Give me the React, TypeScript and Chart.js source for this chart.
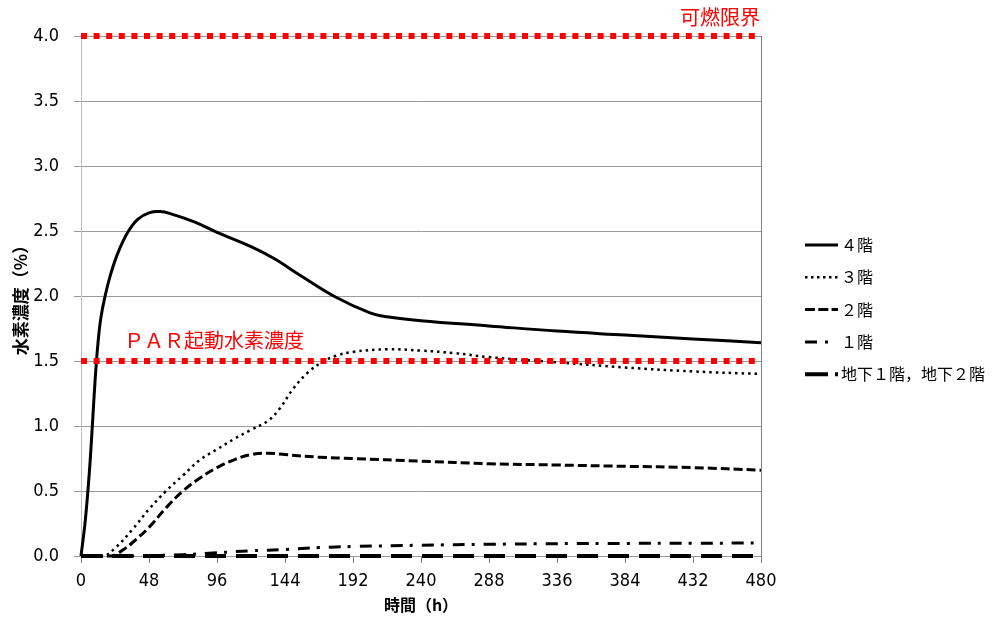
import React, { useEffect, useRef } from 'react';
import { Chart, registerables } from 'chart.js';

Chart.register(...registerables);

// ---- data ----
const hours4F = [0, 3, 6, 8, 10, 12, 14, 17, 21, 26, 33, 40, 48, 56, 64, 80, 96, 120, 136, 156, 180, 204, 216, 240, 288, 336, 384, 432, 480];
const conc4F = [0, 0.27, 0.66, 1.0, 1.36, 1.64, 1.83, 2.0, 2.17, 2.33, 2.49, 2.59, 2.64, 2.65, 2.63, 2.57, 2.49, 2.38, 2.29, 2.15, 1.99, 1.87, 1.84, 1.81, 1.77, 1.73, 1.70, 1.67, 1.64];

const hours3F = [0, 16, 24, 36, 48, 60, 72, 84, 96, 108, 120, 132, 140, 150, 160, 170, 180, 192, 216, 240, 264, 288, 336, 384, 432, 480];
const conc3F = [0, 0, 0.06, 0.2, 0.36, 0.5, 0.62, 0.74, 0.82, 0.9, 0.97, 1.04, 1.13, 1.29, 1.41, 1.49, 1.54, 1.57, 1.59, 1.58, 1.56, 1.53, 1.49, 1.45, 1.42, 1.40];

const hours2F = [0, 22, 30, 36, 48, 60, 72, 84, 96, 108, 120, 132, 144, 168, 192, 240, 288, 336, 384, 432, 480];
const conc2F = [0, 0, 0.05, 0.1, 0.22, 0.37, 0.5, 0.6, 0.68, 0.74, 0.78, 0.79, 0.78, 0.76, 0.75, 0.73, 0.71, 0.70, 0.69, 0.68, 0.66];

const hours1F = [0, 36, 48, 72, 96, 120, 144, 168, 192, 240, 288, 336, 384, 432, 480];
const conc1F = [0, 0, 0.003, 0.01, 0.025, 0.04, 0.05, 0.065, 0.073, 0.083, 0.09, 0.095, 0.097, 0.098, 0.1];

const hoursB = [0, 480];
const concB = [0, 0];

const seriesLabels = ['４階', '３階', '２階', '１階', '地下１階，地下２階'];

const lflLevel = 4.0;
const parLevel = 1.5;
const lflLabel = '可燃限界';
const parLabel = 'ＰＡＲ起動水素濃度';

const xTitle = '時間（h）';
const yTitle = '水素濃度（%）';

const xMin = 0;
const xMax = 480;
const xStep = 48;
const yMin = 0;
const yMax = 4;
const yStep = 0.5;

const toPoints = (xs: number[], ys: number[]) => xs.map((x, i) => ({ x, y: ys[i] }));

const TICK_FONT = "'DejaVu Sans Condensed', 'DejaVu Sans', sans-serif";
const JP_FONT = "'Noto Sans CJK JP', sans-serif";

const seriesStyles = [
  { dash: [] as number[], width: 3, legendDash: [] as number[], tension: 0.4 },
  { dash: [2.5, 4], width: 2.5, legendDash: [2.5, 3.5], tension: 0.4 },
  { dash: [9, 4], width: 3, legendDash: [10, 3.3], tension: 0.4 },
  { dash: [12, 7, 3, 9], width: 3, legendDash: [12, 8, 3, 20], tension: 0.4 },
  { dash: [21, 10], width: 4, legendDash: [23, 7, 3, 20], tension: 0 },
];

const overlayPlugin = {
  id: 'overlay',
  afterDraw(chart: any) {
    const { ctx, scales } = chart;
    const xs = scales.x;
    const ys = scales.y;
    ctx.save();
    // threshold labels
    ctx.fillStyle = '#ff0000';
    ctx.font = `20px ${JP_FONT}`;
    ctx.textBaseline = 'middle';
    ctx.textAlign = 'right';
    ctx.fillText(lflLabel, xs.getPixelForValue(xMax) - 1, ys.getPixelForValue(lflLevel) - 19);
    ctx.textAlign = 'left';
    ctx.fillText(parLabel, xs.getPixelForValue(xMin) + 43, ys.getPixelForValue(parLevel) - 21);

    // legend
    const lx0 = 805;
    const lx1 = 838;
    const ty0 = 245;
    const dy = 32.3;
    seriesLabels.forEach((label, i) => {
      const st = seriesStyles[i];
      const y = ty0 + dy * i;
      ctx.beginPath();
      ctx.strokeStyle = '#000';
      ctx.lineWidth = st.width;
      ctx.setLineDash(st.legendDash);
      ctx.lineCap = 'butt';
      ctx.moveTo(lx0, y);
      ctx.lineTo(lx1, y);
      ctx.stroke();
      ctx.setLineDash([]);
      ctx.fillStyle = '#000';
      ctx.font = `16px ${JP_FONT}`;
      ctx.textAlign = 'left';
      ctx.textBaseline = 'middle';
      ctx.fillText(label, 841, y);
    });
    ctx.restore();
  },
};

export default function App() {
  const canvasRef = useRef<HTMLCanvasElement | null>(null);

  useEffect(() => {
    if (!canvasRef.current) return;
    const seriesData = [
      toPoints(hours4F, conc4F),
      toPoints(hours3F, conc3F),
      toPoints(hours2F, conc2F),
      toPoints(hours1F, conc1F),
      toPoints(hoursB, concB),
    ];
    const lineSets = seriesData.map((d, i) => ({
      label: seriesLabels[i],
      data: d,
      borderColor: '#000000',
      backgroundColor: '#000000',
      borderWidth: seriesStyles[i].width,
      borderDash: seriesStyles[i].dash,
      pointRadius: 0,
      fill: false,
      tension: seriesStyles[i].tension,
      borderCapStyle: 'butt' as const,
      clip: 6,
    }));
    const thresholdSets = [lflLevel, parLevel].map((lvl, i) => ({
      label: i === 0 ? lflLabel : parLabel,
      data: [
        { x: xMin, y: lvl },
        { x: xMax, y: lvl },
      ],
      borderColor: '#ff0000',
      backgroundColor: '#ff0000',
      borderWidth: 6,
      borderDash: [6, 6.6],
      pointRadius: 0,
      fill: false,
      borderCapStyle: 'butt' as const,
      clip: false,
    }));

    const chart = new Chart(canvasRef.current, {
      type: 'line',
      data: { datasets: [...thresholdSets, ...lineSets] as any },
      options: {
        animation: false,
        responsive: true,
        maintainAspectRatio: false,
        layout: { padding: { top: 36, right: 243, left: 0, bottom: 0 } },
        plugins: {
          legend: { display: false },
          tooltip: { enabled: false },
        },
        scales: {
          x: {
            type: 'linear',
            min: xMin,
            max: xMax,
            ticks: {
              stepSize: xStep,
              color: '#000',
              font: { family: TICK_FONT, size: 18 },
              padding: 8,
              maxRotation: 0,
              autoSkip: false,
            },
            grid: {
              color: (c: any) => (c.tick && c.tick.value === xMax ? '#808080' : 'rgba(0,0,0,0)'),
              tickColor: '#808080',
              tickLength: 7,
              drawOnChartArea: true,
            },
            border: { display: false },
            title: {
              display: true,
              text: xTitle,
              color: '#000',
              font: { family: JP_FONT, size: 16, weight: 'bold' },
              padding: { top: 0, bottom: 4 },
            },
            afterFit: (s: any) => {
              s.height = 63;
            },
          },
          y: {
            type: 'linear',
            min: yMin,
            max: yMax,
            ticks: {
              stepSize: yStep,
              color: '#000',
              font: { family: TICK_FONT, size: 18 },
              padding: 15,
              callback: (v: any) => Number(v).toFixed(1),
            },
            grid: {
              color: '#9a9a9a',
              tickColor: '#9a9a9a',
              tickLength: 7,
            },
            border: { display: true, color: '#bfbfbf' },
            title: {
              display: true,
              text: yTitle,
              color: '#000',
              font: { family: JP_FONT, size: 17, weight: 'bold' },
              padding: { top: 10, bottom: 0 },
            },
            afterFit: (s: any) => {
              s.width = 81;
            },
          },
        },
      },
      plugins: [overlayPlugin],
    });
    return () => chart.destroy();
  }, []);

  return (
    <div style={{ position: 'absolute', left: 0, top: 0, width: 1004, height: 619, background: '#fff' }}>
      <canvas ref={canvasRef} />
    </div>
  );
}
